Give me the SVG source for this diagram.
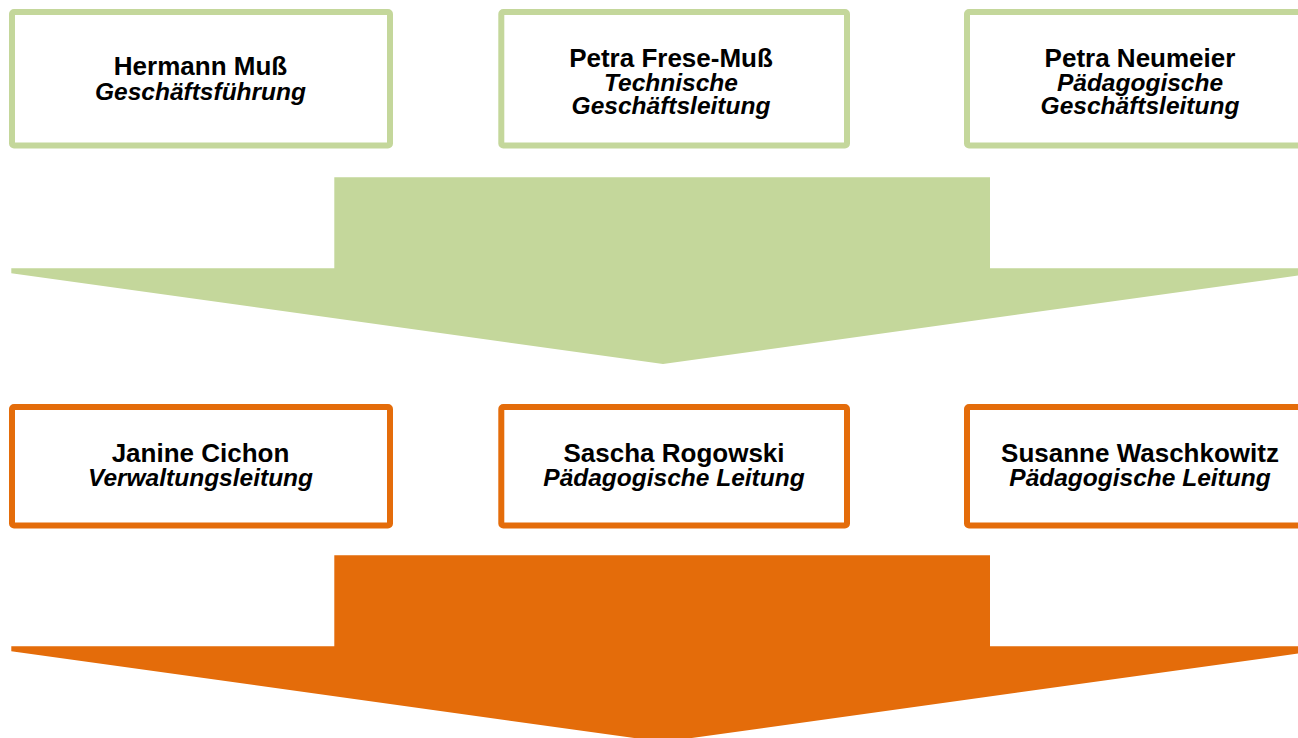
<svg xmlns="http://www.w3.org/2000/svg" width="1298" height="738" viewBox="0 0 1298 738">
  <style>
    .g { fill: #ffffff; stroke: #c4d79b; stroke-width: 6; }
    .o { fill: #ffffff; stroke: #e46c0a; stroke-width: 6; }
    .name { font-family: "Liberation Sans", Arial, sans-serif; font-weight: bold; font-size: 26px; fill: #000; text-anchor: middle; }
    .role { font-family: "Liberation Sans", Arial, sans-serif; font-weight: bold; font-style: italic; font-size: 24.5px; fill: #000; text-anchor: middle; }
  </style>
  <rect width="1298" height="738" fill="#ffffff"/>
  <g id="connectors">
    <polygon fill="#c4d79b" points="334.3,177.3 990,177.3 990,268.3 1314.7,268.3 1314.7,273.3 663,364 11.3,273.3 11.3,268.3 334.3,268.3"/>
    <polygon fill="#e46c0a" points="334.3,555.3 990,555.3 990,646.3 1314.7,646.3 1314.7,651.3 663,742 11.3,651.3 11.3,646.3 334.3,646.3"/>
  </g>
  <g id="hermann">
    <rect class="g" x="12" y="12" width="378" height="133.5" rx="2"/>
    <text class="name" x="200.5" y="75.3">Hermann Muß</text>
    <text class="role" x="200.5" y="100">Geschäftsführung</text>
  </g>
  <g id="petra-frese">
    <rect class="g" x="501.3" y="12" width="345.7" height="133.5" rx="2"/>
    <text class="name" x="671" y="66.7">Petra Frese-Muß</text>
    <text class="role" x="671" y="90.5">Technische</text>
    <text class="role" x="671" y="114.3">Geschäftsleitung</text>
  </g>
  <g id="petra-neumeier">
    <rect class="g" x="967" y="12" width="346" height="133.5" rx="2"/>
    <text class="name" x="1140" y="66.7">Petra Neumeier</text>
    <text class="role" x="1140" y="90.5">Pädagogische</text>
    <text class="role" x="1140" y="114.3">Geschäftsleitung</text>
  </g>
  <g id="janine">
    <rect class="o" x="12" y="407" width="378" height="118.5" rx="2"/>
    <text class="name" x="200.5" y="461.7">Janine Cichon</text>
    <text class="role" x="200.5" y="485.7">Verwaltungsleitung</text>
  </g>
  <g id="sascha">
    <rect class="o" x="501.3" y="407" width="345.7" height="118.5" rx="2"/>
    <text class="name" x="674" y="461.7">Sascha Rogowski</text>
    <text class="role" x="674" y="485.7">Pädagogische Leitung</text>
  </g>
  <g id="susanne">
    <rect class="o" x="967" y="407" width="346" height="118.5" rx="2"/>
    <text class="name" x="1140" y="461.7">Susanne Waschkowitz</text>
    <text class="role" x="1140" y="485.7">Pädagogische Leitung</text>
  </g>
</svg>
